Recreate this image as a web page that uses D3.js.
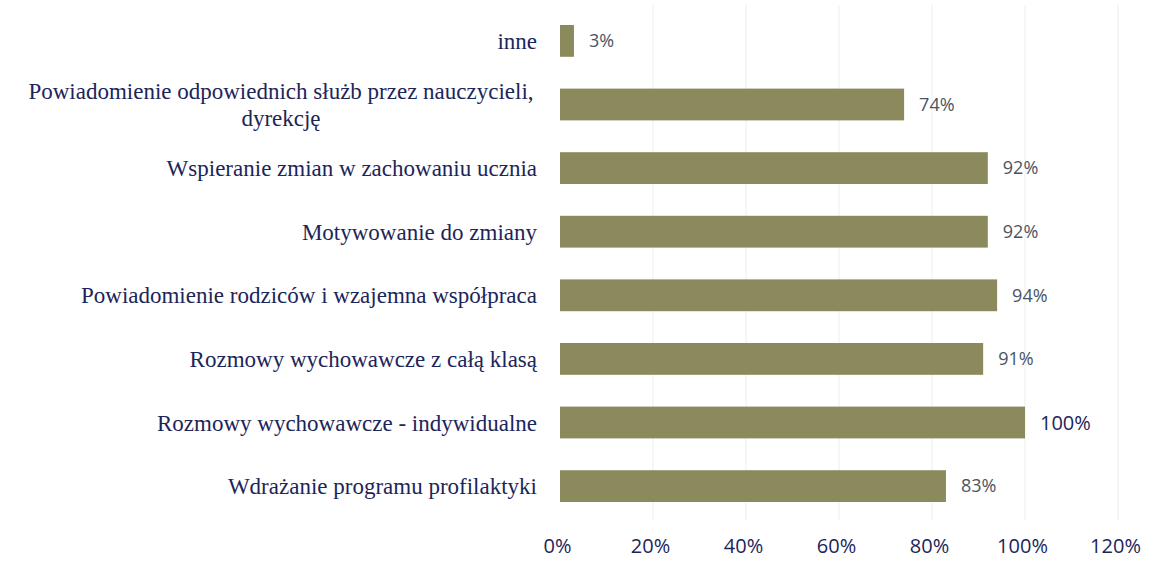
<!DOCTYPE html>
<head>
    <meta charset="utf-8">
    <title>Działania</title>
    <style>
        html, body {
            margin: 0;
            background: #fff;
        }
        .cat {
            font-family: "Liberation Serif", "DejaVu Serif", serif;
            font-size: 23px;
            fill: #1c2559;
        }
        .val {
            font-family: "Open Sans", "DejaVu Sans", sans-serif;
            font-size: 18px;
            fill: #4a5563;
        }
        .tick text {
            font-family: "Open Sans", "DejaVu Sans", sans-serif;
            font-size: 20px;
            fill: #1c2559;
        }
    </style>
</head>
<body>
<script src="https://cdn.jsdelivr.net/npm/d3@7"></script>
<script>

    const categories = [
        "inne",
        "Powiadomienie odpowiednich służb przez nauczycieli,|dyrekcję",
        "Wspieranie zmian w zachowaniu ucznia",
        "Motywowanie do zmiany",
        "Powiadomienie rodziców i wzajemna współpraca",
        "Rozmowy wychowawcze z całą klasą",
        "Rozmowy wychowawcze - indywidualne",
        "Wdrażanie programu profilaktyki"
    ];
    const values = [3, 74, 92, 92, 94, 91, 100, 83];
    const ticks = [0, 20, 40, 60, 80, 100, 120];

    const width = 1160, height = 566;

    const svg = d3.select("body").append("svg")
        .attr("width", width)
        .attr("height", height);

    const x = d3.scaleLinear().domain([0, 120]).range([560, 1118]);
    const y = d3.scaleBand().domain(categories).range([25, 502])
        .paddingInner(0.5).paddingOuter(0);

    // faint grid
    svg.append("g")
        .selectAll("line")
        .data(ticks.slice(1))
        .enter().append("line")
        .attr("x1", d => x(d)).attr("x2", d => x(d))
        .attr("y1", 5).attr("y2", 520)
        .attr("stroke", "#ededed")
        .attr("stroke-width", 1);

    svg.append("g")
        .selectAll("rect")
        .data(values)
        .enter().append("rect")
        .attr("x", x(0))
        .attr("y", (d, i) => y(categories[i]))
        .attr("width", d => x(d) - x(0))
        .attr("height", y.bandwidth())
        .attr("fill", "#8b8a5c");

    svg.append("g")
        .selectAll("text")
        .data(values)
        .enter().append("text")
        .attr("class", "val")
        .attr("x", d => x(d) + 15)
        .attr("y", (d, i) => y(categories[i]) + y.bandwidth() / 2)
        .attr("dy", "0.35em")
        .style("fill", d => d === 100 ? "#1c2559" : null)
        .style("font-size", d => d === 100 ? "20px" : null)
        .text(d => d + "%");

    // category labels, "|" splits lines
    const cat = svg.append("g")
        .selectAll("text")
        .data(categories)
        .enter().append("text")
        .attr("class", "cat")
        .attr("text-anchor", d => d.includes("|") ? "middle" : "end")
        .attr("x", d => d.includes("|") ? 281 : 537)
        .attr("y", d => y(d) + y.bandwidth() / 2);

    cat.each(function (d) {
        const lines = d.split("|");
        const t = d3.select(this);
        lines.forEach((l, i) => {
            t.append("tspan")
                .attr("x", t.attr("x"))
                .attr("dy", i === 0 ? (0.35 - (lines.length - 1) * 0.6) + "em" : "1.2em")
                .text(l);
        });
    });

    const axis = d3.axisBottom(x)
        .tickValues(ticks)
        .tickFormat(d => d + "%")
        .tickSize(0)
        .tickPadding(0);

    svg.append("g")
        .attr("transform", "translate(-3,537)")
        .call(axis)
        .call(g => g.select(".domain").remove())
        .selectAll("text").attr("dy", "0.8em");

</script>
